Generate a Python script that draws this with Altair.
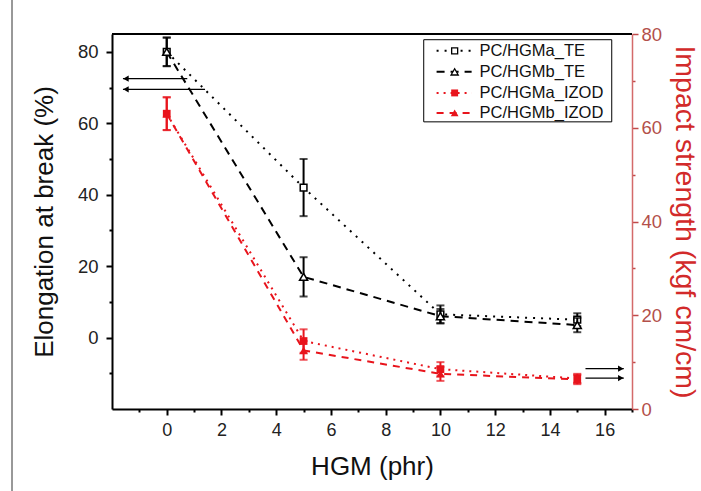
import altair as alt
import pandas as pd

# ---------------- data ----------------
hgm = [0, 5, 10, 15]
series_names = ["PC/HGMa_TE", "PC/HGMb_TE", "PC/HGMa_IZOD", "PC/HGMb_IZOD"]
te_a = [80.0, 42.0, 6.5, 5.0]
te_a_sd = [4.0, 8.0, 2.5, 1.8]
te_b = [80.0, 17.0, 6.0, 3.5]
te_b_sd = [4.0, 5.5, 2.0, 2.0]
izod_a = [63.0, 14.5, 8.5, 6.5]
izod_a_sd = [3.5, 2.5, 1.5, 1.0]
izod_b = [63.0, 12.5, 7.5, 6.3]
izod_b_sd = [3.5, 2.0, 1.5, 1.0]

# arrows telling which axis belongs to which data
left_arrow_y = [72.5, 69.5]
left_arrow_x_from = [0.75, 1.4]
left_arrow_x_to = [-1.6, -1.6]
right_arrow_y = [8.6, 6.6]
right_arrow_x_from = [15.3, 15.3]
right_arrow_x_to = [16.7, 16.7]

x_ticks = list(range(-1, 18))
left_ticks = list(range(-10, 81, 10))
right_ticks = list(range(0, 81, 10))

# legend placement (in data units of the left axis)
legend_y = [80.3, 74.4, 68.5, 62.9]
legend_box = dict(x=9.39, x2=16.26, y=83.4, y2=60.4)
legend_line_x = [9.86, 11.14]
legend_marker_x = 10.52
legend_text_x = 11.43

FONT = "Liberation Sans"
BLACK = "#000000"
RED = "#e8141c"
RED_DARK = "#d22a2a"

styles = {
    "PC/HGMa_TE": dict(color=BLACK, dash=[2, 6], shape="square", filled=False, size=45),
    "PC/HGMb_TE": dict(color=BLACK, dash=[8, 6], shape="triangle-up", filled=False, size=65),
    "PC/HGMa_IZOD": dict(color=RED, dash=[2, 5], shape="square", filled=True, size=60),
    "PC/HGMb_IZOD": dict(color=RED, dash=[7, 6], shape="triangle-up", filled=True, size=75),
}

x_axis = alt.Axis(
    values=x_ticks,
    labelExpr="datum.value % 2 === 0 ? datum.label : ''",
    tickSize={"condition": {"test": "datum.value % 2 === 0", "value": 6}, "value": 3},
    grid=False, domainColor=BLACK, domainWidth=2, tickColor=BLACK, tickWidth=2,
    labelFont=FONT, labelFontSize=18, labelColor="#222222", labelPadding=6,
    labelFlush=False, labelOverlap=False,
    title="HGM (phr)", titleFont=FONT, titleFontSize=26, titleFontWeight="normal",
    titleColor="#111111", titlePadding=14,
)
x_scale = alt.Scale(domain=[-2, 17], nice=False, zero=False)

left_axis = alt.Axis(
    values=left_ticks,
    labelExpr="datum.value % 20 === 0 ? datum.label : ''",
    tickSize={"condition": {"test": "datum.value % 20 === 0", "value": 6}, "value": 3},
    grid=False, domainColor=BLACK, domainWidth=2, tickColor=BLACK, tickWidth=2,
    labelFont=FONT, labelFontSize=18.5, labelColor="#222222", labelPadding=8,
    labelFlush=False, labelOverlap=False,
    title="Elongation at break (%)", titleFont=FONT, titleFontSize=26,
    titleFontWeight="normal", titleColor="#111111", titlePadding=20,
)
left_scale = alt.Scale(domain=[-20, 85], nice=False, zero=False)

right_axis = alt.Axis(
    orient="right",
    values=right_ticks,
    labelExpr="datum.value % 20 === 0 ? datum.label : ''",
    tickSize={"condition": {"test": "datum.value % 20 === 0", "value": 6}, "value": 3},
    grid=False, domainColor="#d46a6a", domainWidth=1.5, tickColor="#c04a4a", tickWidth=1.5,
    labelFont=FONT, labelFontSize=18.5, labelColor="#b3504a", labelPadding=3,
    labelFlush=False, labelOverlap=False,
    title="Impact strength (kgf cm/cm)", titleFont=FONT, titleFontSize=28.5,
    titleFontWeight="normal", titleColor=RED_DARK, titlePadding=8,
)
right_scale = alt.Scale(domain=[0, 80], nice=False, zero=False)


def X(field="x"):
    return alt.X(f"{field}:Q", scale=x_scale, axis=x_axis)


def series_layers(name, ys, sds, yscale, yaxis):
    st = styles[name]
    df = pd.DataFrame({
        "x": hgm, "y": ys,
        "lo": [a - b for a, b in zip(ys, sds)],
        "hi": [a + b for a, b in zip(ys, sds)],
    })
    base = alt.Chart(df)
    Y = lambda f: alt.Y(f"{f}:Q", scale=yscale, axis=yaxis)
    line = base.mark_line(color=st["color"], strokeDash=st["dash"], strokeWidth=2).encode(x=X(), y=Y("y"))
    bar = base.mark_rule(color=st["color"], strokeWidth=2).encode(x=X(), y=Y("lo"), y2="hi:Q")
    cap_lo = base.mark_tick(color=st["color"], size=8, thickness=2, orient="horizontal").encode(x=X(), y=Y("lo"))
    cap_hi = base.mark_tick(color=st["color"], size=8, thickness=2, orient="horizontal").encode(x=X(), y=Y("hi"))
    pt = base.mark_point(
        shape=st["shape"], filled=st["filled"], size=st["size"],
        color=st["color"], strokeWidth=1.5, opacity=1,
        fill=st["color"] if st["filled"] else "white",
    ).encode(x=X(), y=Y("y"))
    return [line, bar, cap_lo, cap_hi, pt]


left_layers = []
left_layers += series_layers("PC/HGMa_TE", te_a, te_a_sd, left_scale, left_axis)
left_layers += series_layers("PC/HGMb_TE", te_b, te_b_sd, left_scale, left_axis)

YL = lambda f: alt.Y(f"{f}:Q", scale=left_scale, axis=left_axis)
YR = lambda f: alt.Y(f"{f}:Q", scale=right_scale, axis=right_axis)

# left arrows
la = pd.DataFrame({"x": left_arrow_x_from, "x2": left_arrow_x_to, "y": left_arrow_y})
left_layers.append(alt.Chart(la).mark_rule(color=BLACK, strokeWidth=1.3).encode(x=X(), x2="x2:Q", y=YL("y")))
left_layers.append(alt.Chart(la).mark_point(shape="triangle-left", filled=True, size=40, color=BLACK, opacity=1)
                   .encode(x=X("x2"), y=YL("y"), xOffset=alt.value(3)))

# top frame
left_layers.append(alt.Chart(pd.DataFrame({"a": [0]})).mark_rule(color=BLACK, strokeWidth=2)
                   .encode(x=alt.value(0), x2=alt.value(520), y=alt.value(0)))

# legend
lb = pd.DataFrame({"x": [legend_box["x"]], "x2": [legend_box["x2"]], "y": [legend_box["y"]], "y2": [legend_box["y2"]]})
left_layers.append(alt.Chart(lb).mark_rect(fill="white", stroke=BLACK, strokeWidth=1)
                   .encode(x=X(), x2="x2:Q", y=YL("y"), y2="y2:Q"))
for name, ly in zip(series_names, legend_y):
    st = styles[name]
    d = pd.DataFrame({"x": [legend_line_x[0]], "x2": [legend_line_x[1]], "y": [ly],
                      "mx": [legend_marker_x], "tx": [legend_text_x], "label": [name]})
    c = alt.Chart(d)
    left_layers.append(c.mark_rule(color=st["color"], strokeDash=st["dash"], strokeWidth=2)
                       .encode(x=X(), x2="x2:Q", y=YL("y")))
    left_layers.append(c.mark_point(shape=st["shape"], filled=st["filled"], size=st["size"] * 0.8,
                                    color=st["color"], strokeWidth=1.3, opacity=1,
                                    fill=st["color"] if st["filled"] else "white")
                       .encode(x=X("mx"), y=YL("y")))
    left_layers.append(c.mark_text(align="left", baseline="middle", font=FONT, fontSize=16.5, color="#111111")
                       .encode(x=X("tx"), y=YL("y"), text="label:N"))

# outer left border of the figure
left_layers.append(alt.Chart(pd.DataFrame({"a": [0]})).mark_rule(color="#333333", strokeWidth=1)
                   .encode(x=alt.value(-100), y=alt.value(-34), y2=alt.value(457)))

right_layers = []
right_layers += series_layers("PC/HGMa_IZOD", izod_a, izod_a_sd, right_scale, right_axis)
right_layers += series_layers("PC/HGMb_IZOD", izod_b, izod_b_sd, right_scale, right_axis)
ra = pd.DataFrame({"x": right_arrow_x_from, "x2": right_arrow_x_to, "y": right_arrow_y})
right_layers.append(alt.Chart(ra).mark_rule(color=BLACK, strokeWidth=1.3).encode(x=X(), x2="x2:Q", y=YR("y")))
right_layers.append(alt.Chart(ra).mark_point(shape="triangle-right", filled=True, size=40, color=BLACK, opacity=1)
                    .encode(x=X("x2"), y=YR("y"), xOffset=alt.value(-3)))

left = alt.layer(*left_layers)
right = alt.layer(*right_layers)

chart = (
    alt.layer(left, right)
    .resolve_scale(y="independent")
    .properties(width=520, height=375,
                padding={"left": 112, "top": 34, "right": 69, "bottom": 82},
                autosize=alt.AutoSizeParams(type="none"), background="white")
    .configure_view(stroke=None)
)

chart.save("out.html", embed_options={"renderer": "svg", "actions": False})
